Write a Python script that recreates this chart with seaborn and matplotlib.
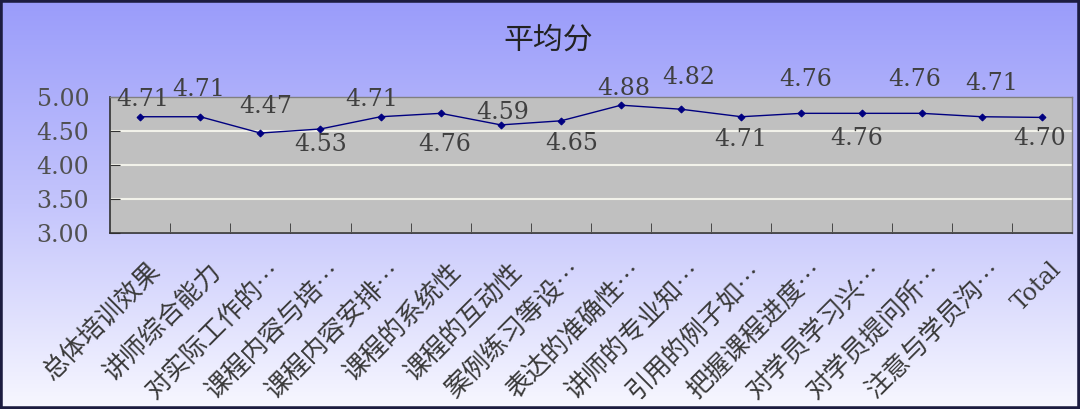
import numpy as np
import pandas as pd
import matplotlib.pyplot as plt
import matplotlib.transforms as mtransforms
from matplotlib.colors import LinearSegmentedColormap
from matplotlib.patches import Rectangle
import seaborn as sns

# data
categories = ["总体培训效果", "讲师综合能力", "对实际工作的…", "课程内容与培…",
              "课程内容安排…", "课程的系统性", "课程的互动性", "案例练习等设…",
              "表达的准确性…", "讲师的专业知…", "引用的例子如…", "把握课程进度…",
              "对学员学习兴…", "对学员提问所…", "注意与学员沟…", "Total"]
scores = [4.71, 4.71, 4.47, 4.53, 4.71, 4.76, 4.59, 4.65,
          4.88, 4.82, 4.71, 4.76, 4.76, 4.76, 4.71, 4.70]
y_ticks = [3.0, 3.5, 4.0, 4.5, 5.0]

# where the value labels sit relative to their point (pixels)
label_dx = [3, -2, 5, 0, -9, 4, 2, 11, 3, 8, -1, 4, -5, -7, 10, -2]
label_dy = [17, 27, 27, -16, 17, -31, 12, -23, 17, 32, -23, 34, -25, 34, 33, -21]

df = pd.DataFrame({"item": categories, "score": scores})

cjk = ["Noto Sans CJK SC", "DejaVu Sans"]
num_font = "DejaVu Serif"

fig = plt.figure(figsize=(10.8, 4.09), dpi=100)

# gradient background, periwinkle at top fading to white
bg = fig.add_axes([0, 0, 1, 1], zorder=-10)
grad_cmap = LinearSegmentedColormap.from_list("bg", ["#9a9cfa", "#c4c5fc", "#f7f7ff"])
bg.imshow(np.linspace(0, 1, 256).reshape(-1, 1), aspect="auto", cmap=grad_cmap,
          extent=[0, 1, 0, 1], origin="upper")
bg.axis("off")

ax = fig.add_axes([0.1019, 0.4303, 0.8907, 0.3325])
ax.set_facecolor("#c0c0c0")

sns.pointplot(data=df, x="item", y="score", color="#000080", markers="D",
              markersize=3.5, linewidth=1.0, errorbar=None, ax=ax)

ax.set_xlim(-0.5, len(categories) - 0.5)
ax.set_ylim(3.0, 5.0)
ax.set_xlabel("")
ax.set_ylabel("")

# value labels
for i, v in enumerate(scores):
    ax.annotate(f"{v:.2f}", (i, v), xytext=(label_dx[i], label_dy[i]),
                textcoords="offset pixels", ha="center", va="center",
                fontsize=17, family=num_font, color="#404040", clip_on=False)

# y axis
ax.set_yticks(y_ticks)
ax.set_yticklabels([f"{t:.2f}" for t in y_ticks], family=num_font)
ax.tick_params(axis="y", direction="in", length=7, pad=15, labelsize=17,
               labelcolor="#505050", color="#333333")
ax.yaxis.grid(True, color="#f2f2ea", lw=1.5)
ax.set_axisbelow(True)

# x axis: labels at category centres, tick marks between categories
ax.set_xticks(range(len(categories)))
ax.set_xticklabels(categories, rotation=45, ha="right", va="top",
                   rotation_mode="anchor", fontsize=18.5, family=cjk, color="#3a3a3a")
ax.tick_params(axis="x", which="major", length=0, pad=18)
ax.set_xticks(np.arange(0.5, len(categories) - 1, 1), minor=True)
ax.tick_params(axis="x", which="minor", direction="in", length=7, color="#333333")
shift = mtransforms.ScaledTranslation(8 / 100, 0, fig.dpi_scale_trans)
for lbl in ax.get_xticklabels():
    lbl.set_transform(lbl.get_transform() + shift)
    if lbl.get_text() == "Total":
        lbl.set_fontfamily(num_font)
        lbl.set_fontsize(17)

for side in ["left", "bottom"]:
    ax.spines[side].set_color("#303030")
    ax.spines[side].set_linewidth(1.2)
for side in ["top", "right"]:
    ax.spines[side].set_color("#808080")
    ax.spines[side].set_linewidth(1.0)

fig.text(0.508, 0.902, "平均分", ha="center", va="center", fontsize=21.5,
         family=cjk, color="#222222")

fig.patches.append(Rectangle((0, 0), 1, 1, transform=fig.transFigure, fill=False,
                             ec="#1c1c40", lw=4))

fig.savefig("out.png", dpi=100)
